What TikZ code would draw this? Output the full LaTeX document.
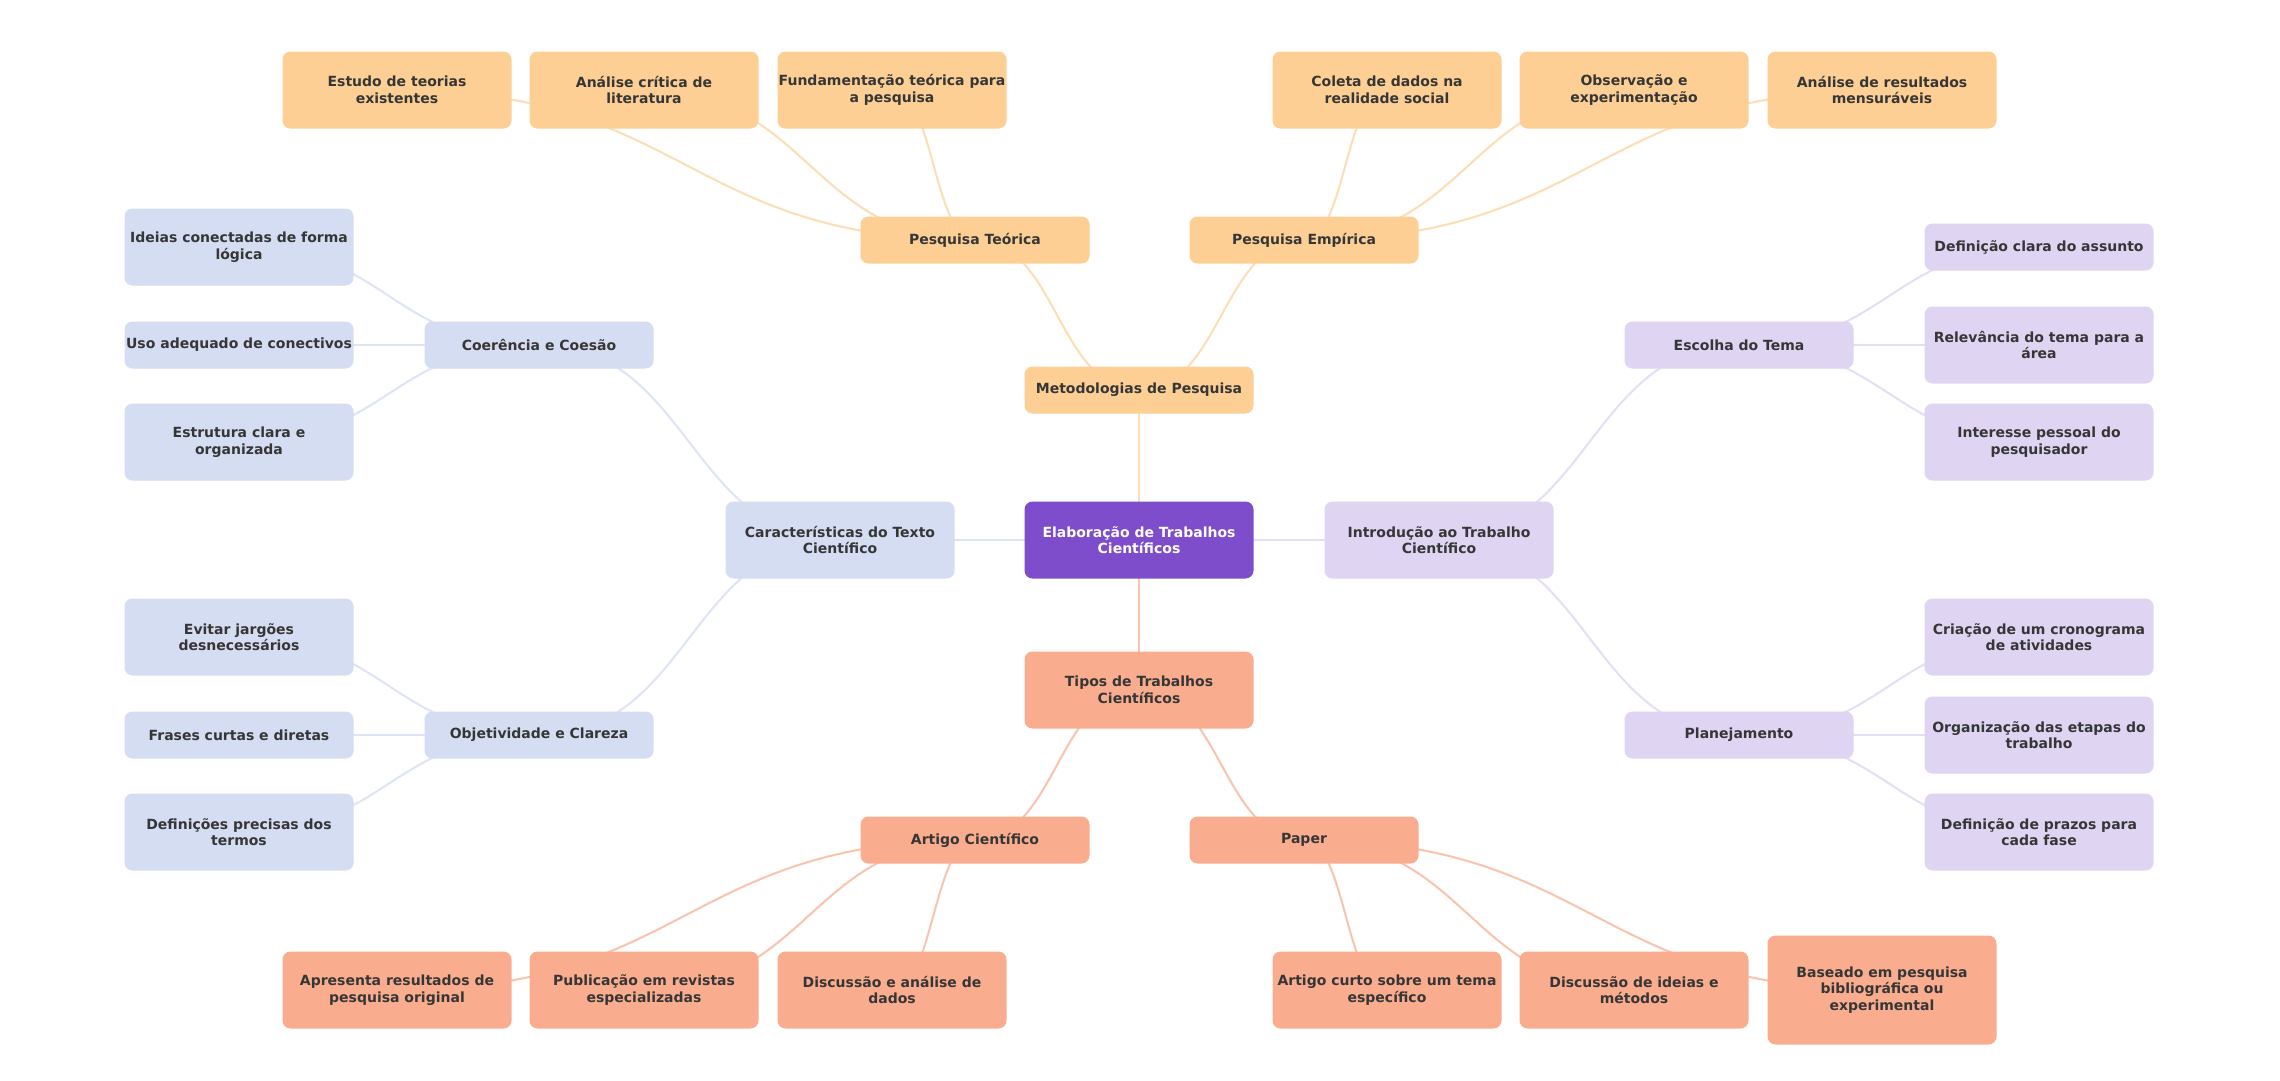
\documentclass[tikz,border=0pt]{standalone}
\usepackage{fontspec}
\setmainfont{DejaVu Sans}
\usetikzlibrary{calc,backgrounds}
\definecolor{corg}{HTML}{FDCF94}
\definecolor{eorg}{HTML}{FDDDB4}
\definecolor{cblu}{HTML}{D5DDF2}
\definecolor{eblu}{HTML}{DDE4F5}
\definecolor{cpur}{HTML}{DFD4F2}
\definecolor{epur}{HTML}{E5DDF5}
\definecolor{csal}{HTML}{F9AD8E}
\definecolor{esal}{HTML}{FAC3AB}
\definecolor{cmain}{HTML}{7E4DCB}
\definecolor{ctext}{HTML}{363636}
\newcommand\mmlink[3]{\draw[line width=2pt,#3] let \p1=(#1.center), \p2=(#2.center) in (\p1) .. controls ({(\x1+\x2)/2},\y1) and ({(\x1+\x2)/2},\y2) .. (\p2);}
\begin{document}
\begin{tikzpicture}[x=1pt,y=-1pt,
  box/.style={rounded corners=8pt, minimum width=229pt, minimum height=47pt, inner sep=0pt, align=center, font=\fontsize{14}{16.5}\selectfont\bfseries, text=ctext},
  two/.style={minimum height=77pt},
  three/.style={minimum height=109pt},
  org/.style={box, fill=corg},
  blu/.style={box, fill=cblu},
  pur/.style={box, fill=cpur},
  sal/.style={box, fill=csal},
  mainbox/.style={box, two, fill=cmain, text=white}]
\useasboundingbox (0,0) rectangle (2280,1080);
% central
\node[mainbox] (c) at (1139,540) {Elaboração de Trabalhos\\Científicos};
\node[org] (met) at (1139,390) {Metodologias de Pesquisa};
\node[sal,two] (tip) at (1139,690) {Tipos de Trabalhos\\Científicos};
\node[blu,two] (car) at (840,540) {Características do Texto\\Científico};
\node[pur,two] (int) at (1439,540) {Introdução ao Trabalho\\Científico};
% second level
\node[org] (teo) at (975,240) {Pesquisa Teórica};
\node[org] (emp) at (1304,240) {Pesquisa Empírica};
\node[sal] (art) at (975,840) {Artigo Científico};
\node[sal] (pap) at (1304,840) {Paper};
\node[blu] (coe) at (539,345) {Coerência e Coesão};
\node[blu] (obj) at (539,735) {Objetividade e Clareza};
\node[pur] (esc) at (1739,345) {Escolha do Tema};
\node[pur] (pla) at (1739,735) {Planejamento};
% leaves top
\node[org,two] (t1) at (397,90) {Estudo de teorias\\existentes};
\node[org,two] (t2) at (644,90) {Análise crítica de\\literatura};
\node[org,two] (t3) at (892,90) {Fundamentação teórica para\\a pesquisa};
\node[org,two] (e1) at (1387,90) {Coleta de dados na\\realidade social};
\node[org,two] (e2) at (1634,90) {Observação e\\experimentação};
\node[org,two] (e3) at (1882,90) {Análise de resultados\\mensuráveis};
% leaves left
\node[blu,two] (c1) at (239,247) {Ideias conectadas de forma\\lógica};
\node[blu] (c2) at (239,345) {Uso adequado de conectivos};
\node[blu,two] (c3) at (239,442) {Estrutura clara e\\organizada};
\node[blu,two] (o1) at (239,637) {Evitar jargões\\desnecessários};
\node[blu] (o2) at (239,735) {Frases curtas e diretas};
\node[blu,two] (o3) at (239,832) {Definições precisas dos\\termos};
% leaves right
\node[pur] (s1) at (2039,247) {Definição clara do assunto};
\node[pur,two] (s2) at (2039,345) {Relevância do tema para a\\área};
\node[pur,two] (s3) at (2039,442) {Interesse pessoal do\\pesquisador};
\node[pur,two] (p1) at (2039,637) {Criação de um cronograma\\de atividades};
\node[pur,two] (p2) at (2039,735) {Organização das etapas do\\trabalho};
\node[pur,two] (p3) at (2039,832) {Definição de prazos para\\cada fase};
% leaves bottom
\node[sal,two] (a1) at (397,990) {Apresenta resultados de\\pesquisa original};
\node[sal,two] (a2) at (644,990) {Publicação em revistas\\especializadas};
\node[sal,two] (a3) at (892,990) {Discussão e análise de\\dados};
\node[sal,two] (q1) at (1387,990) {Artigo curto sobre um tema\\específico};
\node[sal,two] (q2) at (1634,990) {Discussão de ideias e\\métodos};
\node[sal,three] (q3) at (1882,990) {Baseado em pesquisa\\bibliográfica ou\\experimental};
\begin{pgfonlayer}{background}
\fill[white] (0,0) rectangle (2280,1080);
\mmlink{c}{met}{eorg}
\mmlink{c}{tip}{esal}
\mmlink{c}{car}{eblu}
\mmlink{c}{int}{epur}
\mmlink{met}{teo}{eorg}
\mmlink{met}{emp}{eorg}
\mmlink{tip}{art}{esal}
\mmlink{tip}{pap}{esal}
\mmlink{car}{coe}{eblu}
\mmlink{car}{obj}{eblu}
\mmlink{int}{esc}{epur}
\mmlink{int}{pla}{epur}
\mmlink{teo}{t1}{eorg}
\mmlink{teo}{t2}{eorg}
\mmlink{teo}{t3}{eorg}
\mmlink{emp}{e1}{eorg}
\mmlink{emp}{e2}{eorg}
\mmlink{emp}{e3}{eorg}
\mmlink{coe}{c1}{eblu}
\mmlink{coe}{c2}{eblu}
\mmlink{coe}{c3}{eblu}
\mmlink{obj}{o1}{eblu}
\mmlink{obj}{o2}{eblu}
\mmlink{obj}{o3}{eblu}
\mmlink{esc}{s1}{epur}
\mmlink{esc}{s2}{epur}
\mmlink{esc}{s3}{epur}
\mmlink{pla}{p1}{epur}
\mmlink{pla}{p2}{epur}
\mmlink{pla}{p3}{epur}
\mmlink{art}{a1}{esal}
\mmlink{art}{a2}{esal}
\mmlink{art}{a3}{esal}
\mmlink{pap}{q1}{esal}
\mmlink{pap}{q2}{esal}
\mmlink{pap}{q3}{esal}
\end{pgfonlayer}
\end{tikzpicture}
\end{document}
